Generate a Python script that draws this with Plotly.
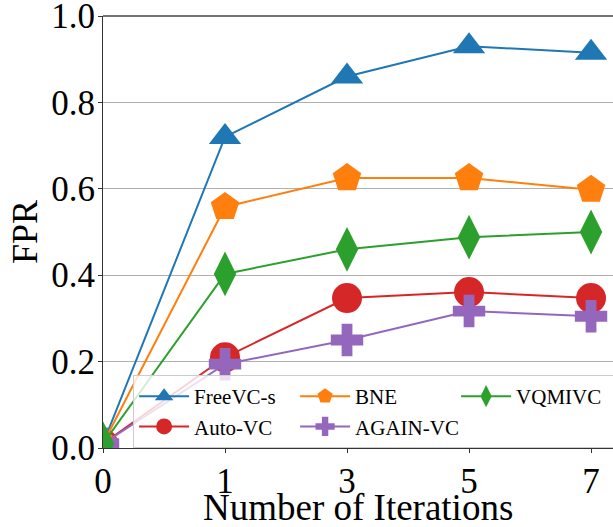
import plotly.graph_objects as go

iterations = ["0", "1", "3", "5", "7"]
freevc_s = [0.01, 0.72, 0.86, 0.93, 0.915]
bne = [0.01, 0.558, 0.625, 0.625, 0.598]
vqmivc = [0.01, 0.403, 0.46, 0.488, 0.50]
auto_vc = [0.01, 0.21, 0.347, 0.361, 0.347]
again_vc = [0.01, 0.194, 0.25, 0.317, 0.305]
y_ticks = [0.0, 0.2, 0.4, 0.6, 0.8, 1.0]
y_ticklabels = ["0.0", "0.2", "0.4", "0.6", "0.8", "1.0"]

FONT = "Liberation Serif, Times New Roman, serif"

series = [
    ("FreeVC-s", freevc_s, "#1f77b4", "triangle-up", 28, 1),
    ("Auto-VC", auto_vc, "#d62728", "circle", 30, 4),
    ("BNE", bne, "#ff7f0e", "pentagon", 30, 2),
    ("AGAIN-VC", again_vc, "#9467bd", "cross", 27, 5),
    ("VQMIVC", vqmivc, "#2ca02c", "diamond-tall", 32, 3),
]

fig = go.Figure()
for name, vals, color, sym, size, rank in series:
    fig.add_trace(go.Scatter(
        x=iterations, y=vals, name=name, mode="lines+markers",
        line=dict(color=color, width=2),
        marker=dict(symbol=sym, size=size, color=color, line=dict(width=0)),
        legendrank=rank,
    ))

fig.update_layout(
    width=613, height=527,
    margin=dict(l=103, r=0, t=16, b=79, autoexpand=False),
    paper_bgcolor="white", plot_bgcolor="white",
    font=dict(family=FONT, color="black", size=36),
    legend=dict(
        orientation="h", x=0.059, xanchor="left", y=0.0, yanchor="bottom",
        bgcolor="rgba(255,255,255,0.8)", bordercolor="#cccccc", borderwidth=1,
        font=dict(family=FONT, size=21), entrywidth=96, itemwidth=50,
        tracegroupgap=0,
    ),
    showlegend=True,
    annotations=[dict(
        text="Number of Iterations", xref="paper", yref="paper",
        x=0.5, y=-0.1366, xanchor="center", yanchor="middle", showarrow=False,
        font=dict(family=FONT, size=37, color="black"),
    )],
    shapes=[dict(
        type="line", xref="paper", yref="paper", x0=0, x1=1, y0=1, y1=1,
        line=dict(color="#444444", width=1.5), layer="above",
    )],
)
fig.update_xaxes(
    type="category", range=[0, 4.18], automargin=False,
    showgrid=False, showline=True, linecolor="#333333", linewidth=1.2,
    ticks="outside", ticklen=4, tickcolor="#333333",
    tickfont=dict(family=FONT, size=35), ticklabelstandoff=-2,
)
fig.update_yaxes(
    range=[0, 1.0], tickvals=y_ticks, ticktext=y_ticklabels, automargin=False,
    showgrid=True, gridcolor="#b0b0b0", gridwidth=1,
    showline=True, linecolor="#333333", linewidth=1.2,
    ticks="outside", ticklen=4, tickcolor="#333333",
    tickfont=dict(family=FONT, size=35), zeroline=False, ticklabelstandoff=-4,
    ticklabeloverflow="allow",
    title=dict(text="FPR", font=dict(family=FONT, size=36), standoff=2),
)

fig.write_html("out.html", config={"displayModeBar": False},
               post_script="document.body.style.margin='0px';")
